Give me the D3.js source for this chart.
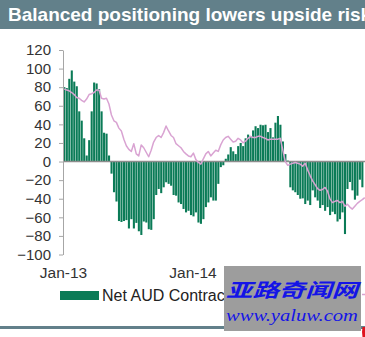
<!DOCTYPE html>
<html>
<head>
<meta charset="utf-8">
<script src="https://cdn.jsdelivr.net/npm/d3@7/dist/d3.min.js"></script>
<style>
  html, body { margin: 0; padding: 0; background: #fff; }
  svg { display: block; }
</style>
</head>
<body>
<svg id="chart" width="365" height="337"></svg>
<script>
// Weekly CFTC net AUD positioning ('000 contracts) from the first week of 2013
const netContracts = [
  80, 79, 89, 98, 86, 81, 54, 44, 25, 6.5, 23, 54, 85, 84, 78, 54, 31, 30, 6.5,
  -13, -33, -43, -64, -65, -64, -63, -72, -62, -72, -66, -75,
  -79, -64.5, -65.6, -72.8, -73.5, -62, -36, -29.5, -34, -27.7, -22.3, -24, -26, -36, -36.7,
  -44, -45.7, -51, -54.7, -53, -57.6, -59, -54.7, -65.6, -67, -62, -49, -44, -38.5, -42, -42,
  -24, -6, -4, 3, 7.6, 15.5, 11, 8, 16.6, 20, 16.6, 25, 29, 27, 33.5, 38, 36, 39.6, 39, 39.6,
  31.7, 36, 26, 41.8, 49, 39.6, 21.6, 8, 1, -27.7, -31,
  -33, -36, -40, -39.6, -45.7, -42, -46.8, -31, -38.5, -42, -50, -46.8, -53, -49, -57.6, -54,
  -56.6, -64.5, -62, -54.7, -78, -29.5, -22, -31, -41, -36.7, -19.5, -27.7
];

// AUD/USD weekly close over the same weeks (right-hand scale)
const audUsd = [
  1.055, 1.052, 1.050, 1.046, 1.041, 1.034, 1.032, 1.027, 1.023, 1.030, 1.041, 1.043, 1.046,
  1.052, 1.052, 1.032, 1.030, 1.032, 1.018, 0.991, 0.977, 0.973, 0.959, 0.952, 0.932, 0.916,
  0.907, 0.902, 0.921, 0.896, 0.891, 0.918, 0.911, 0.900, 0.889, 0.905, 0.925, 0.936, 0.941,
  0.936, 0.948, 0.964, 0.952, 0.941, 0.936, 0.921, 0.916, 0.911, 0.902, 0.896, 0.891, 0.889,
  0.898, 0.882, 0.875, 0.871, 0.884, 0.896, 0.902, 0.891, 0.898, 0.905, 0.902, 0.918, 0.930,
  0.936, 0.939, 0.932, 0.925, 0.927, 0.934, 0.930, 0.923, 0.927, 0.934, 0.939, 0.936, 0.936,
  0.939, 0.939, 0.936, 0.934, 0.930, 0.932, 0.932, 0.932, 0.932, 0.934, 0.905, 0.877, 0.868,
  0.871, 0.873, 0.875, 0.873, 0.871, 0.866, 0.873, 0.857, 0.843, 0.830, 0.821, 0.811, 0.807,
  0.809, 0.814, 0.805, 0.786, 0.777, 0.780, 0.782, 0.777, 0.780, 0.768, 0.773, 0.766, 0.761,
  0.768, 0.775, 0.780, 0.784, 0.789
];

const leftTicks = [-100, -80, -60, -40, -20, 0, 20, 40, 60, 80, 100, 120];
const xTickDates = [new Date(2013, 0, 1), new Date(2014, 0, 1)];
const titleText = "Balanced positioning lowers upside risk";
const legendBarLabel = "Net AUD Contracts";

const firstWeek = new Date(2013, 0, 1);
const weekOf = i => d3.timeWeek.offset(firstWeek, i);

const svg = d3.select("#chart");
const W = 365, H = 337;
const FONT = "'Liberation Sans', Arial, sans-serif";
const TEAL = "#62808a";
const GREEN = "#0b7b57";
const PINK = "#d9a3d2";

// scales
const x = d3.scaleTime()
  .domain([new Date(2013, 0, 1), new Date(2014, 0, 1)])
  .range([63, 192.5]);
const y = d3.scaleLinear().domain([-100, 120]).range([254.5, 50]);
const yRight = d3.scaleLinear().domain([0.65, 1.15]).range([254.5, 50]);

// title band
svg.append("rect").attr("x", 0).attr("y", 0).attr("width", W).attr("height", 29).attr("fill", TEAL);
svg.append("text")
  .attr("x", 8).attr("y", 21)
  .attr("font-family", FONT).attr("font-weight", "bold").attr("font-size", 19)
  .attr("fill", "#fff")
  .text(titleText);

// bars
const step = x(weekOf(1)) - x(weekOf(0));
svg.append("g").selectAll("rect")
  .data(netContracts)
  .join("rect")
  .attr("x", (d, i) => x(weekOf(i)) + 0.3)
  .attr("width", step * 0.84)
  .attr("y", d => y(Math.max(0, d)))
  .attr("height", d => Math.abs(y(d) - y(0)))
  .attr("fill", GREEN);

// zero line
svg.append("line")
  .attr("x1", 63).attr("x2", W + 20)
  .attr("y1", y(0)).attr("y2", y(0))
  .attr("stroke", "#8c8c8c").attr("stroke-width", 1.5);

// AUD/USD line
const line = d3.line()
  .x((d, i) => x(weekOf(i)) + step / 2)
  .y(d => yRight(d));
svg.append("path")
  .datum(audUsd)
  .attr("d", line)
  .attr("fill", "none")
  .attr("stroke", PINK)
  .attr("stroke-width", 1.5)
  .attr("stroke-linejoin", "round");

// left axis
const yAxis = d3.axisLeft(y).tickValues(leftTicks).tickSize(4).tickSizeOuter(0).tickPadding(8);
const gy = svg.append("g").attr("transform", "translate(63,0)").call(yAxis);
gy.select(".domain").attr("stroke", "#a6a6a6");
gy.selectAll(".tick line").attr("stroke", "#a6a6a6");
gy.selectAll(".tick text")
  .attr("font-family", FONT).attr("font-size", 15).attr("fill", "#333");

// date labels along the bottom
const xAxis = d3.axisBottom(x).tickValues(xTickDates).tickSize(0).tickPadding(0)
  .tickFormat(d3.timeFormat("%b-%y"));
const gx = svg.append("g").attr("transform", "translate(0,267)").call(xAxis);
gx.select(".domain").remove();
gx.selectAll(".tick text")
  .attr("font-family", FONT).attr("font-size", 15.5).attr("fill", "#333")
  .attr("dy", "0.72em");

// legend
svg.append("rect").attr("x", 60).attr("y", 291).attr("width", 39).attr("height", 9).attr("fill", GREEN);
svg.append("text")
  .attr("x", 102).attr("y", 300.5)
  .attr("font-family", FONT).attr("font-size", 16).attr("fill", "#222")
  .text(legendBarLabel);
svg.append("line")
  .attr("x1", 362).attr("x2", 400).attr("y1", 294.5).attr("y2", 294.5)
  .attr("stroke", PINK).attr("stroke-width", 1.5);

// footer rule
svg.append("rect").attr("x", 0).attr("y", 326).attr("width", W).attr("height", 3).attr("fill", TEAL);
svg.append("path")
  .attr("d", "M365,327 L362.5,327 Q361.5,332 362.5,337 L365,337 Z")
  .attr("fill", "#e0141e");

// site stamp
svg.append("rect").attr("x", 224).attr("y", 266).attr("width", 137).attr("height", 65).attr("fill", "#9d9d9d");
svg.append("text")
  .attr("x", 226).attr("y", 297)
  .attr("font-family", "'Noto Sans CJK SC', sans-serif").attr("font-weight", "bold")
  .attr("font-style", "italic").attr("font-size", 19)
  .attr("textLength", 132).attr("lengthAdjust", "spacingAndGlyphs")
  .attr("fill", "#1414e6")
  .text("亚路奇闻网");
svg.append("text")
  .attr("x", 226).attr("y", 321)
  .attr("font-family", "'Liberation Serif', 'DejaVu Serif', serif")
  .attr("font-style", "italic").attr("font-size", 17)
  .attr("textLength", 132).attr("lengthAdjust", "spacingAndGlyphs")
  .attr("fill", "#1414e6")
  .text("www.yaluw.com");
</script>
</body>
</html>
